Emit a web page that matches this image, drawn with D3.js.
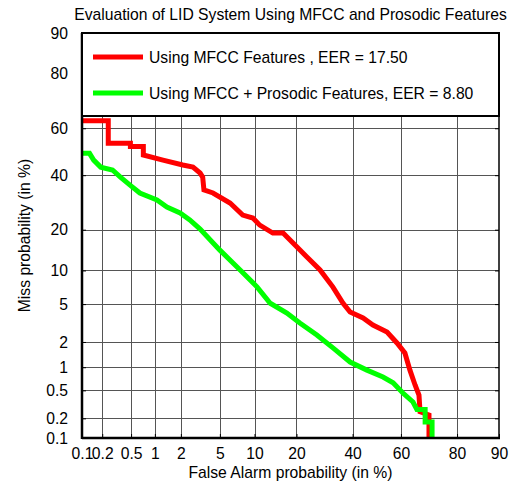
<!DOCTYPE html>
<html><head><meta charset="utf-8">
<script src="https://cdn.jsdelivr.net/npm/d3@7"></script>
<style>body{margin:0;background:#fff} text{font-family:"Liberation Sans",Arial,sans-serif;fill:#000}</style>
</head><body><svg id="c" width="516" height="483"></svg>
<script>
// ---- data (percent) ----
const xTicks = [0.1, 0.2, 0.5, 1, 2, 5, 10, 20, 40, 60, 80, 90];
const xTickLabels = ["0.1", "0.2", "0.5", "1", "2", "5", "10", "20", "40", "60", "80", "90"];
const yTicks = [0.1, 0.2, 0.5, 1, 2, 5, 10, 20, 40, 60, 80, 90];
const yTickLabels = ["0.1", "0.2", "0.5", "1", "2", "5", "10", "20", "40", "60", "80", "90"];
const seriesNames = ["Using MFCC Features , EER = 17.50", "Using MFCC + Prosodic Features, EER = 8.80"];
const seriesColors = ["#ff0000", "#00ff00"];
const mfccFA   = [0.1, 0.244, 0.244, 0.49, 0.49, 0.72, 0.72, 1.25, 2.1, 2.7, 3.2, 3.4, 3.5, 4.3, 6.2, 8.0, 9.7, 11.0, 13.8, 16.3, 19.0, 23.2, 27.6, 32.3, 36.2, 39.0, 44.3, 48.4, 54.3, 58.4, 61.6, 63.6, 65.6, 67.1, 67.5, 70.8, 70.8];
const mfccMiss = [63.1, 63.1, 53.6, 53.6, 52.2, 52.2, 48.6, 46.4, 44.3, 43.4, 40.9, 39.2, 34.0, 32.8, 29.0, 24.7, 23.7, 21.4, 19.0, 19.0, 16.2, 12.8, 10.1, 7.2, 5.1, 4.18, 3.63, 3.07, 2.58, 1.95, 1.49, 0.92, 0.59, 0.43, 0.25, 0.224, 0.1];
const prosFA   = [0.1, 0.13, 0.15, 0.19, 0.28, 0.36, 0.48, 0.65, 1.06, 1.39, 1.96, 2.5, 3.2, 5.0, 7.6, 10.5, 13.2, 17.3, 21.0, 26.5, 32.3, 39.0, 45.9, 52.6, 56.8, 60.8, 64.8, 66.3, 69.4, 69.4, 71.9, 71.9];
const prosMiss = [49.3, 49.3, 46.4, 43.4, 42.2, 39.2, 36.0, 32.8, 30.1, 27.5, 25.4, 23.1, 20.2, 14.4, 10.1, 7.2, 5.1, 4.08, 3.22, 2.39, 1.71, 1.16, 0.92, 0.75, 0.63, 0.46, 0.345, 0.27, 0.27, 0.176, 0.176, 0.1];

// inverse normal CDF (Acklam)
function probit(p) {
  const a=[-39.69683028665376,220.9460984245205,-275.9285104469687,138.3577518672690,-30.66479806614716,2.506628277459239];
  const b=[-54.47609879822406,161.5858368580409,-155.6989798598866,66.80131188771972,-13.28068155288572];
  const c=[-0.007784894002430293,-0.3223964580411365,-2.400758277161838,-2.549732539343734,4.374664141464968,2.938163982698783];
  const d=[0.007784695709041462,0.3224671290700398,2.445134137142996,3.754408661907416];
  const pl=0.02425, ph=1-pl; let q,r;
  if (p<pl){q=Math.sqrt(-2*Math.log(p));return (((((c[0]*q+c[1])*q+c[2])*q+c[3])*q+c[4])*q+c[5])/((((d[0]*q+d[1])*q+d[2])*q+d[3])*q+1);}
  if (p<=ph){q=p-0.5;r=q*q;return (((((a[0]*r+a[1])*r+a[2])*r+a[3])*r+a[4])*r+a[5])*q/(((((b[0]*r+b[1])*r+b[2])*r+b[3])*r+b[4])*r+1);}
  q=Math.sqrt(-2*Math.log(1-p));return -(((((c[0]*q+c[1])*q+c[2])*q+c[3])*q+c[4])*q+c[5])/((((d[0]*q+d[1])*q+d[2])*q+d[3])*q+1);
}
const pz = v => probit(v / 100);

const FS = 15.7;
const L = 82, R = 499, T = 33, B = 438, legB = 116;
const svg = d3.select("#c");
const x = d3.scaleLinear().domain([pz(0.1), pz(90)]).range([L, R]);
const y = d3.scaleLinear().domain([pz(0.1), pz(90)]).range([B, T]);

// grid
const grid = svg.append("g").attr("stroke", "#555").attr("stroke-width", 1);
xTicks.slice(1, -1).forEach(v => {
  const px = Math.round(x(pz(v))) + 0.5;
  grid.append("line").attr("x1", px).attr("x2", px).attr("y1", legB).attr("y2", B);
});
yTicks.slice(1).forEach(v => {
  const py = Math.round(y(pz(v))) + 0.5;
  if (py > legB + 1) grid.append("line").attr("x1", L).attr("x2", R).attr("y1", py).attr("y2", py);
});

// axes
const xAxis = d3.axisBottom(x).tickValues(xTicks.map(pz)).tickFormat((d, i) => xTickLabels[i]).tickSizeInner(-4).tickSizeOuter(0).tickPadding(10);
const gx = svg.append("g").attr("transform", `translate(0,${B})`).call(xAxis);
const yAxis = d3.axisLeft(y).tickValues(yTicks.map(pz)).tickFormat((d, i) => yTickLabels[i]).tickSizeInner(-4).tickSizeOuter(0).tickPadding(14);
const gy = svg.append("g").attr("transform", `translate(${L},0)`).call(yAxis);
const yAxisR = d3.axisRight(y).tickValues(yTicks.map(pz)).tickFormat("").tickSizeInner(-4).tickSizeOuter(0);
const gr = svg.append("g").attr("transform", `translate(${R},0)`).call(yAxisR);
[gx, gy, gr].forEach(g => {
  g.select(".domain").remove();
  g.selectAll("text").attr("font-size", FS).attr("font-family", "Liberation Sans, Arial, sans-serif").attr("fill", "#000");
  g.selectAll("line").attr("stroke", "#000");
});

// curves
const line = d3.line().x(d => x(pz(d[0]))).y(d => y(pz(d[1])));
const series = [d3.zip(mfccFA, mfccMiss), d3.zip(prosFA, prosMiss)];
series.forEach((s, i) => {
  svg.append("path").datum(s).attr("d", line).attr("fill", "none")
    .attr("stroke", seriesColors[i]).attr("stroke-width", 5).attr("stroke-linejoin", "miter");
});

// frame
svg.append("line").attr("x1", L).attr("x2", L).attr("y1", T).attr("y2", B + 1).attr("stroke", "#000").attr("stroke-width", 2.5);
svg.append("line").attr("x1", L).attr("x2", R + 1).attr("y1", B).attr("y2", B).attr("stroke", "#000").attr("stroke-width", 2.5);
svg.append("line").attr("x1", R).attr("x2", R).attr("y1", T).attr("y2", B).attr("stroke", "#000").attr("stroke-width", 1.5);

// legend
const lg = svg.append("g");
lg.append("rect").attr("x", L).attr("y", T).attr("width", R - L).attr("height", legB - T)
  .attr("fill", "#fff").attr("stroke", "#000").attr("stroke-width", 2);
seriesNames.forEach((n, i) => {
  const ly = 57 + i * 36;
  lg.append("line").attr("x1", 93).attr("x2", 143).attr("y1", ly).attr("y2", ly).attr("stroke", seriesColors[i]).attr("stroke-width", 5);
  lg.append("text").attr("x", 149).attr("y", ly + 6).attr("font-size", FS).text(n);
});

// titles
svg.append("text").attr("x", (L + R) / 2).attr("y", 20).attr("text-anchor", "middle").attr("font-size", FS)
  .text("Evaluation of LID System Using MFCC and Prosodic Features");
svg.append("text").attr("x", (L + R) / 2).attr("y", 478).attr("text-anchor", "middle").attr("font-size", FS)
  .text("False Alarm probability (in %)");
svg.append("text").attr("transform", `translate(30,${(T + B) / 2}) rotate(-90)`).attr("text-anchor", "middle").attr("font-size", FS)
  .text("Miss probability (in %)");
</script></body></html>
